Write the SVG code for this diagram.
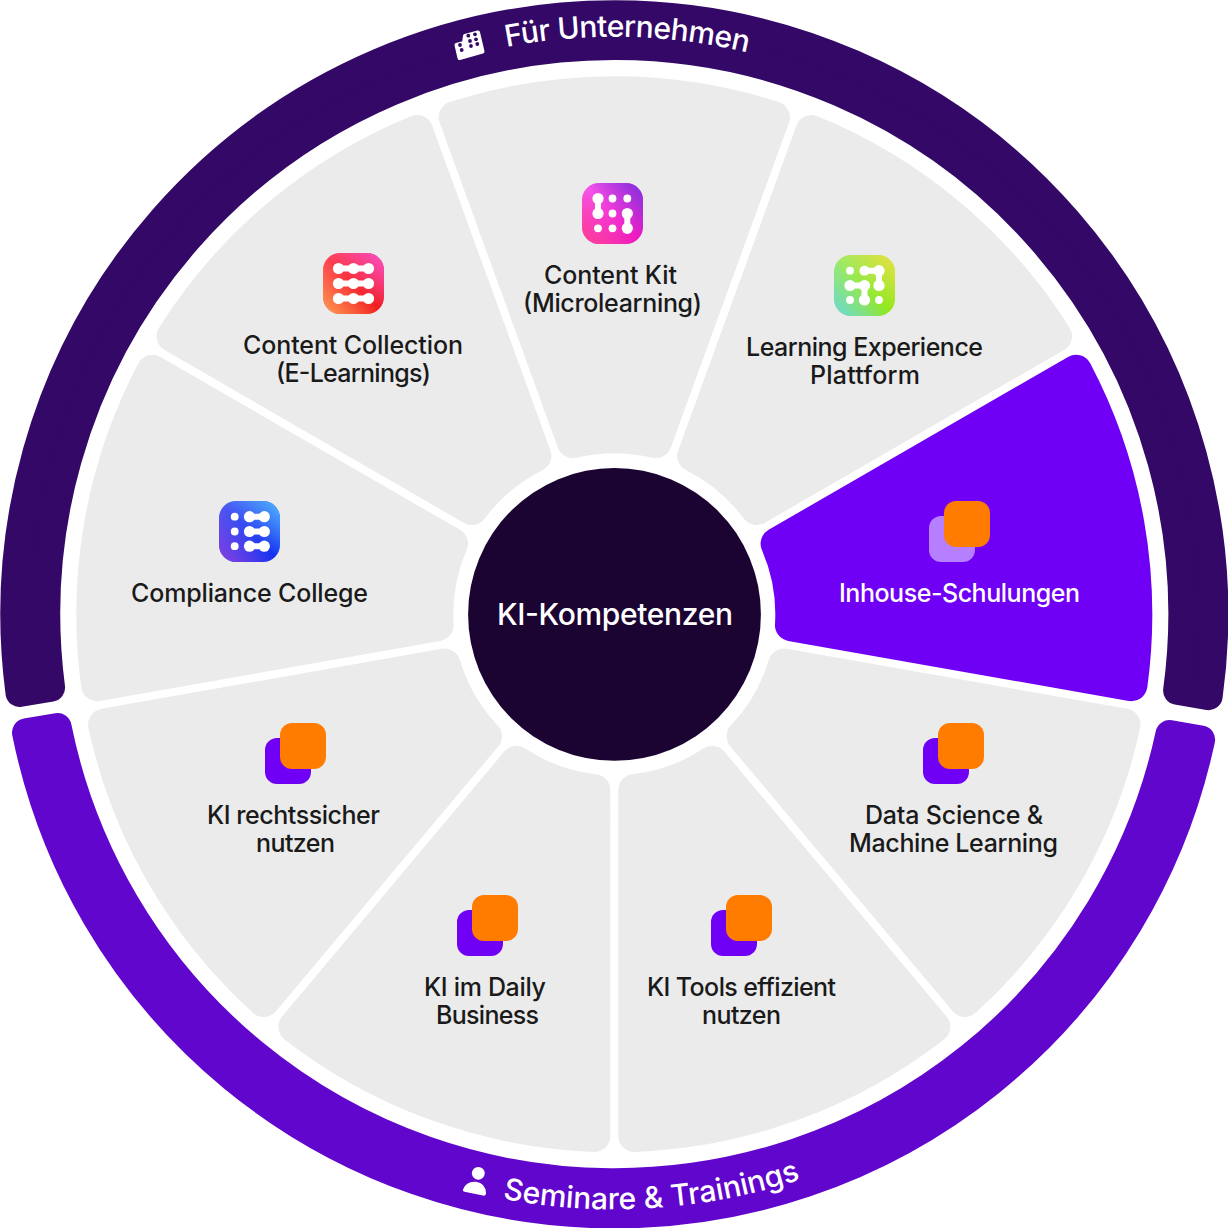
<svg xmlns="http://www.w3.org/2000/svg" width="1228" height="1228" viewBox="0 0 1228 1228">
<style>
text{font-family:"Inter","Liberation Sans",sans-serif;font-weight:500;font-size:25px;fill:#1a1a1a;text-anchor:middle}
.w{fill:#fff}
.ring{font-size:30px;fill:#fff}
.sec{fill:#ebebeb;stroke:#ebebeb;stroke-width:32;stroke-linejoin:round}
.dots circle{fill:#fff}
.dots path{fill:none;stroke:#fff;stroke-width:6;stroke-linecap:round}
.or{fill:#ff7c00}
.pu{fill:#7000f5}
</style>
<defs>
<path id="sector" d="M-41.4-172.1L-159.6-497A522 522 0 0 1 159.6-497L41.4-172.1A177 177 0 0 0-41.4-172.1Z"/>
<path id="arcTop" d="M36.8 614.3A577.5 577.5 0 0 1 1191.8 614.3"/>
<path id="arcBot" d="M19.3 614.3A595 595 0 0 0 1209.3 614.3"/>
<linearGradient id="k1" x1="0" y1="0" x2="1" y2="1"><stop offset="0" stop-color="#f75cf0"/><stop offset="1" stop-color="#ee10bc"/></linearGradient>
<linearGradient id="k2" x1="1" y1="0" x2="0" y2="1"><stop offset="0" stop-color="#7a2fe0"/><stop offset=".5" stop-color="#7a2fe0" stop-opacity="0"/><stop offset=".5" stop-color="#ff3f90" stop-opacity="0"/><stop offset="1" stop-color="#ff3f90"/></linearGradient>
<linearGradient id="c1" x1="0" y1="0" x2="1" y2="1"><stop offset="0" stop-color="#ff4458"/><stop offset="1" stop-color="#ee1818"/></linearGradient>
<linearGradient id="c2" x1="1" y1="0" x2="0" y2="1"><stop offset="0" stop-color="#fb50d0"/><stop offset=".5" stop-color="#fb50d0" stop-opacity="0"/><stop offset=".5" stop-color="#ffa050" stop-opacity="0"/><stop offset="1" stop-color="#ffa050"/></linearGradient>
<linearGradient id="l1" x1="0" y1="0" x2="1" y2="1"><stop offset="0" stop-color="#a0ea70"/><stop offset="1" stop-color="#90e810"/></linearGradient>
<linearGradient id="l2" x1="1" y1="0" x2="0" y2="1"><stop offset="0" stop-color="#ece040"/><stop offset=".5" stop-color="#ece040" stop-opacity="0"/><stop offset=".5" stop-color="#68d8e0" stop-opacity="0"/><stop offset="1" stop-color="#68d8e0"/></linearGradient>
<linearGradient id="p1" x1="0" y1="0" x2="1" y2="1"><stop offset="0" stop-color="#4f5cf2"/><stop offset="1" stop-color="#0c2cf0"/></linearGradient>
<linearGradient id="p2" x1="1" y1="0" x2="0" y2="1"><stop offset="0" stop-color="#50b8ff"/><stop offset=".5" stop-color="#50b8ff" stop-opacity="0"/><stop offset=".5" stop-color="#8a3ee0" stop-opacity="0"/><stop offset="1" stop-color="#8a3ee0"/></linearGradient>
</defs>

<g id="ring-unternehmen">
<path d="M19.5 692.9A600 600 0 1 1 1208.7 696.2L1177.1 690.7A568 568 0 1 0 51.1 687.7Z" fill="#330867" stroke="#330867" stroke-width="28" stroke-linejoin="round"/>
<path class="w" stroke="#fff" stroke-width="4" stroke-linejoin="round" d="M456.500 45L464 43L465 36L478 32.500L482.500 51.500L459.500 58Z"/>
<g fill="#330867"><circle cx="468.300" cy="35.700" r="1.900"/><circle cx="475" cy="34.300" r="1.900"/><circle cx="470" cy="41" r="1.900"/><circle cx="476" cy="39.300" r="1.900"/><circle cx="471" cy="46" r="1.900"/><circle cx="477.300" cy="44" r="1.900"/><circle cx="460" cy="45" r="1.900"/><circle cx="461.700" cy="50" r="1.900"/></g>
<text class="ring"><textPath href="#arcTop" startOffset="920" textLength="243">Für Unternehmen</textPath></text>
</g>
<g id="ring-seminare">
<path d="M1201.1 739.6A600 600 0 0 1 26 732.4L57.6 727.1A568 568 0 0 0 1169.5 734Z" fill="#6106cc" stroke="#6106cc" stroke-width="28" stroke-linejoin="round"/>
<circle class="w" cx="478.300" cy="1173.300" r="6.400"/>
<path class="w" d="M463 1189.500Q466 1181 476 1181.700Q485.500 1183 486 1193Q486 1196.300 483 1195.500L464.500 1191.800Q462.300 1191.200 463 1189.500Z"/>
<text class="ring"><textPath href="#arcBot" startOffset="973" textLength="302">Seminare &amp; Trainings</textPath></text>
</g>

<g id="center">
<circle cx="614.500" cy="614.400" r="146.400" fill="#1b0332"/>
<text class="w" x="615" y="625" style="font-size:30px;fill:#fff" textLength="236">KI-Kompetenzen</text>
</g>

<g id="content-kit">
<use href="#sector" class="sec" transform="translate(614.3 614.3)"/>
<rect x="582" y="183" width="61" height="61" rx="17" fill="url(#k1)"/><rect x="582" y="183" width="61" height="61" rx="17" fill="url(#k2)"/>
<g class="dots"><path d="M598 199V213.500M627.300 213.500V228.300"/><circle cx="598" cy="198.500" r="5.600"/><circle cx="598" cy="213.500" r="5.600"/><circle cx="612.500" cy="198.500" r="3.900"/><circle cx="627.300" cy="198.500" r="3.900"/><circle cx="612.500" cy="213.500" r="3.900"/><circle cx="627.300" cy="213.500" r="5.600"/><circle cx="627.300" cy="228.300" r="5.600"/><circle cx="598" cy="228.300" r="3.900"/><circle cx="612.500" cy="228.300" r="3.900"/></g>
<text><tspan x="610.500" y="284" textLength="133">Content Kit</tspan><tspan x="612.500" y="312" textLength="179">(Microlearning)</tspan></text>
</g>
<g id="learning-experience">
<use href="#sector" class="sec" transform="translate(614.3 614.3) rotate(40)"/>
<rect x="834" y="255" width="61" height="61" rx="17" fill="url(#l1)"/><rect x="834" y="255" width="61" height="61" rx="17" fill="url(#l2)"/>
<g class="dots"><path d="M864.500 270.700H879V285.500M850 285.500H864.500V300"/><circle cx="850" cy="270.700" r="3.900"/><circle cx="864.500" cy="270.700" r="5"/><circle cx="879" cy="270.700" r="5.600"/><circle cx="879" cy="285.500" r="5.600"/><circle cx="850" cy="285.500" r="5.600"/><circle cx="864.500" cy="285.500" r="5.600"/><circle cx="864.500" cy="300" r="5.600"/><circle cx="850" cy="300" r="3.900"/><circle cx="879" cy="300" r="3.900"/></g>
<text><tspan x="864.500" y="356" textLength="237">Learning Experience</tspan><tspan x="865" y="384" textLength="110">Plattform</tspan></text>
</g>
<g id="inhouse">
<use href="#sector" class="sec" style="fill:#7000f5;stroke:#7000f5" transform="translate(614.3 614.3) rotate(80)"/>
<rect x="929" y="516" width="46" height="46" rx="12" fill="#b67fff"/><rect class="or" x="944" y="501" width="46" height="46" rx="12"/>
<text x="959.500" y="602" style="fill:#fff" textLength="241">Inhouse-Schulungen</text>
</g>
<g id="data-science">
<use href="#sector" class="sec" transform="translate(614.3 614.3) rotate(120)"/>
<rect class="pu" x="923" y="738" width="46" height="46" rx="12"/><rect class="or" x="938" y="723" width="46" height="46" rx="12"/>
<text><tspan x="954" y="824" textLength="178">Data Science &amp;</tspan><tspan x="953.500" y="852" textLength="209">Machine Learning</tspan></text>
</g>
<g id="ki-tools">
<use href="#sector" class="sec" transform="translate(614.3 614.3) rotate(160)"/>
<rect class="pu" x="711" y="910" width="46" height="46" rx="12"/><rect class="or" x="726" y="895" width="46" height="46" rx="12"/>
<text><tspan x="741.500" y="996" textLength="189">KI Tools effizient</tspan><tspan x="741.500" y="1024" textLength="79">nutzen</tspan></text>
</g>
<g id="ki-daily">
<use href="#sector" class="sec" transform="translate(614.3 614.3) rotate(200)"/>
<rect class="pu" x="457" y="910" width="46" height="46" rx="12"/><rect class="or" x="472" y="895" width="46" height="46" rx="12"/>
<text><tspan x="485" y="996" textLength="122">KI im Daily</tspan><tspan x="487.500" y="1024" textLength="103">Business</tspan></text>
</g>
<g id="ki-recht">
<use href="#sector" class="sec" transform="translate(614.3 614.3) rotate(240)"/>
<rect class="pu" x="265" y="738" width="46" height="46" rx="12"/><rect class="or" x="280" y="723" width="46" height="46" rx="12"/>
<text><tspan x="293.500" y="824" textLength="173">KI rechtssicher</tspan><tspan x="295.500" y="852" textLength="79">nutzen</tspan></text>
</g>
<g id="compliance">
<use href="#sector" class="sec" transform="translate(614.3 614.3) rotate(280)"/>
<rect x="219" y="501" width="61" height="61" rx="17" fill="url(#p1)"/><rect x="219" y="501" width="61" height="61" rx="17" fill="url(#p2)"/>
<g class="dots"><path d="M249.500 516.700H264.300M249.500 531.500H264.300M249.500 546.200H264.300"/><circle cx="234.700" cy="516.700" r="3.900"/><circle cx="234.700" cy="531.500" r="3.900"/><circle cx="234.700" cy="546.200" r="3.900"/><circle cx="249.500" cy="516.700" r="5.600"/><circle cx="264.300" cy="516.700" r="5.600"/><circle cx="249.500" cy="531.500" r="5.600"/><circle cx="264.300" cy="531.500" r="5.600"/><circle cx="249.500" cy="546.200" r="5.600"/><circle cx="264.300" cy="546.200" r="5.600"/></g>
<text x="249.500" y="602" textLength="237">Compliance College</text>
</g>
<g id="content-collection">
<use href="#sector" class="sec" transform="translate(614.3 614.3) rotate(320)"/>
<rect x="323" y="253" width="61" height="61" rx="17" fill="url(#c1)"/><rect x="323" y="253" width="61" height="61" rx="17" fill="url(#c2)"/>
<g class="dots"><path d="M338.500 268.500H368.500M338.500 283.500H368.500M338.500 298.500H368.500"/><circle cx="338.500" cy="268.500" r="5.600"/><circle cx="353.500" cy="268.500" r="5.600"/><circle cx="368.500" cy="268.500" r="5.600"/><circle cx="338.500" cy="283.500" r="5.600"/><circle cx="353.500" cy="283.500" r="5.600"/><circle cx="368.500" cy="283.500" r="5.600"/><circle cx="338.500" cy="298.500" r="5.600"/><circle cx="353.500" cy="298.500" r="5.600"/><circle cx="368.500" cy="298.500" r="5.600"/></g>
<text><tspan x="353" y="354" textLength="220">Content Collection</tspan><tspan x="353.500" y="382" textLength="155">(E-Learnings)</tspan></text>
</g>
</svg>
